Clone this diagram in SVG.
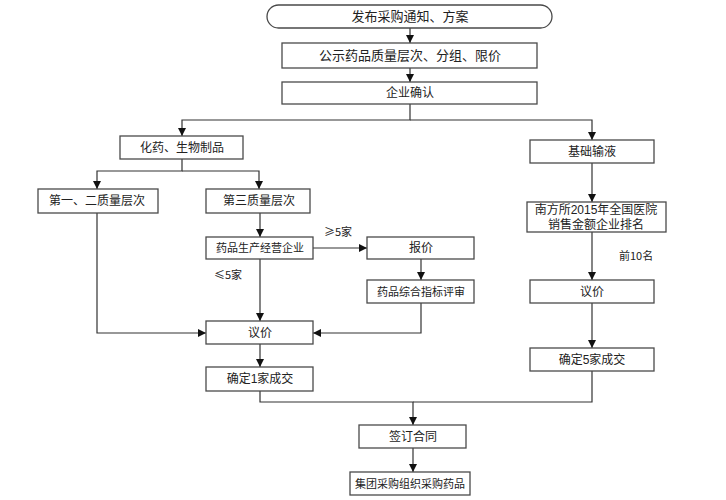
<svg xmlns="http://www.w3.org/2000/svg" width="726" height="500" viewBox="0 0 726 500">
<style>
.box{fill:#fff;stroke:#4a4a4a;stroke-width:1.3}
.t{font-family:"Liberation Sans","Noto Sans CJK SC",sans-serif;font-size:12px;fill:#222;text-anchor:middle;dominant-baseline:central}
.lbl{font-family:"Noto Sans CJK SC","Liberation Sans",sans-serif;font-size:11px;fill:#222}
.c{fill:none;stroke:#333;stroke-width:1.2}
</style>
<defs>
<marker id="ah" markerUnits="userSpaceOnUse" markerWidth="9" markerHeight="9" refX="8" refY="4" orient="auto">
<path d="M0,0 L8,4 L0,8 z" fill="#111"/>
</marker>
</defs>
<rect width="726" height="500" fill="#fff"/>
<g id="connectors">
<path class="c" d="M410,28 V43" marker-end="url(#ah)"/>
<path class="c" d="M410,68 V82" marker-end="url(#ah)"/>
<path class="c" d="M410,104 V120 H182 V136" marker-end="url(#ah)"/>
<path class="c" d="M410,120 H592 V140" marker-end="url(#ah)"/>
<path class="c" d="M182,159 V171 H97 V189" marker-end="url(#ah)"/>
<path class="c" d="M182,171 H259 V189" marker-end="url(#ah)"/>
<path class="c" d="M260,213 V237" marker-end="url(#ah)"/>
<path class="c" d="M313,248 H367" marker-end="url(#ah)"/>
<path class="c" d="M421,259 V280" marker-end="url(#ah)"/>
<path class="c" d="M260,259 V321" marker-end="url(#ah)"/>
<path class="c" d="M97,213 V333 H206" marker-end="url(#ah)"/>
<path class="c" d="M421,303 V333 H313" marker-end="url(#ah)"/>
<path class="c" d="M260,344 V367" marker-end="url(#ah)"/>
<path class="c" d="M260,391 V402 H413 V425" marker-end="url(#ah)"/>
<path class="c" d="M592,371 V402 H413"/>
<path class="c" d="M413,448 V472" marker-end="url(#ah)"/>
<path class="c" d="M592,163 V202" marker-end="url(#ah)"/>
<path class="c" d="M592,232 V280" marker-end="url(#ah)"/>
<path class="c" d="M592,303 V348" marker-end="url(#ah)"/>
<text class="lbl" x="324" y="236">≥5家</text>
<text class="lbl" x="214" y="279">≤5家</text>
<text class="lbl" x="619" y="260">前10名</text>
</g>
<g id="n-start"><rect class="box" x="267" y="5" width="285" height="23" rx="11.5"/><text class="t" x="410" y="16.5" style="font-size:13px">发布采购通知、方案</text></g>
<g id="n-publish"><rect class="box" x="282" y="43" width="255" height="25"/><text class="t" x="410" y="55.5" style="font-size:13px">公示药品质量层次、分组、限价</text></g>
<g id="n-confirm"><rect class="box" x="282" y="82" width="255" height="22"/><text class="t" x="410" y="93">企业确认</text></g>
<g id="n-chem"><rect class="box" x="120" y="136" width="123" height="23"/><text class="t" x="182" y="147.5">化药、生物制品</text></g>
<g id="n-l12"><rect class="box" x="38" y="189" width="120" height="24"/><text class="t" x="97" y="201">第一、二质量层次</text></g>
<g id="n-l3"><rect class="box" x="206" y="189" width="104" height="24"/><text class="t" x="259" y="201">第三质量层次</text></g>
<g id="n-ent"><rect class="box" x="206" y="237" width="107" height="22"/><text class="t" x="260" y="248" style="font-size:11px">药品生产经营企业</text></g>
<g id="n-quote"><rect class="box" x="367" y="237" width="107" height="22"/><text class="t" x="421" y="248">报价</text></g>
<g id="n-eval"><rect class="box" x="367" y="280" width="107" height="23"/><text class="t" x="421" y="291.5" style="font-size:11px">药品综合指标评审</text></g>
<g id="n-neg1"><rect class="box" x="206" y="321" width="107" height="23"/><text class="t" x="260" y="332.5">议价</text></g>
<g id="n-deal1"><rect class="box" x="206" y="367" width="107" height="24"/><text class="t" x="260" y="379">确定1家成交</text></g>
<g id="n-sign"><rect class="box" x="359" y="425" width="107" height="23"/><text class="t" x="413" y="436.5">签订合同</text></g>
<g id="n-buy"><rect class="box" x="350" y="472" width="120" height="23"/><text class="t" x="410" y="483.5" style="font-size:11px">集团采购组织采购药品</text></g>
<g id="n-infusion"><rect class="box" x="530" y="140" width="124" height="23"/><text class="t" x="592" y="151.5">基础输液</text></g>
<g id="n-rank"><rect class="box" x="527" y="202" width="139" height="30"/><text class="t" x="596" y="209.5">南方所2015年全国医院</text><text class="t" x="596" y="224.5">销售金额企业排名</text></g>
<g id="n-neg2"><rect class="box" x="530" y="280" width="124" height="23"/><text class="t" x="592" y="291.5">议价</text></g>
<g id="n-deal5"><rect class="box" x="530" y="348" width="124" height="23"/><text class="t" x="592" y="359.5">确定5家成交</text></g>
</svg>
